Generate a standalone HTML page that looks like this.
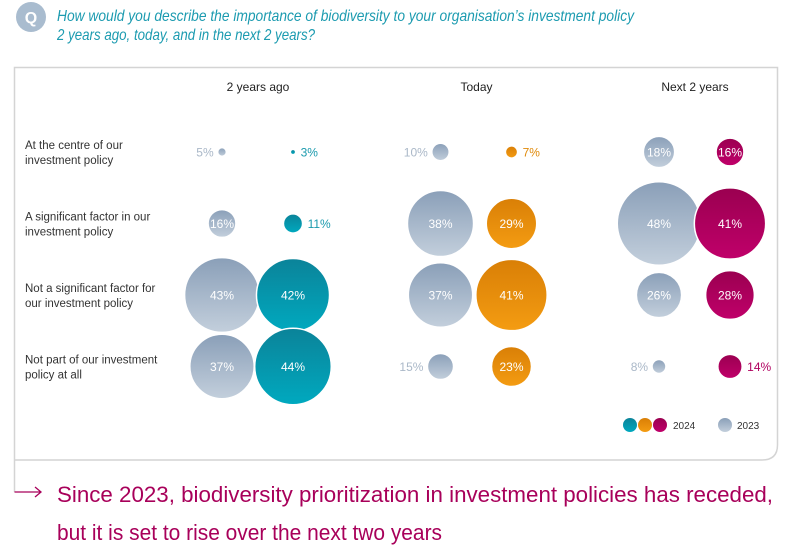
<!DOCTYPE html>
<html><head><meta charset="utf-8"><style>
html,body{margin:0;padding:0;background:#fff;}
svg{display:block;font-family:"Liberation Sans",sans-serif;}
</style></head><body>
<svg width="800" height="556" viewBox="0 0 800 556">
<defs>
<linearGradient id="gGray" x1="0" y1="0" x2="0" y2="1"><stop offset="0" stop-color="#8a9fb8"/><stop offset="1" stop-color="#c3cfdc"/></linearGradient>
<linearGradient id="gTeal" x1="0" y1="0" x2="0" y2="1"><stop offset="0" stop-color="#0b8399"/><stop offset="1" stop-color="#00a9bf"/></linearGradient>
<linearGradient id="gOrange" x1="0" y1="0" x2="0" y2="1"><stop offset="0" stop-color="#d97f06"/><stop offset="1" stop-color="#f49c12"/></linearGradient>
<linearGradient id="gMag" x1="0" y1="0" x2="0" y2="1"><stop offset="0" stop-color="#9a0050"/><stop offset="1" stop-color="#c0006a"/></linearGradient>
</defs>
<circle cx="31" cy="17" r="15" fill="#a9bccf"/>
<text x="31" y="23" text-anchor="middle" fill="#fff" font-size="16" font-weight="bold">Q</text>
<text x="57" y="21" fill="#1c9bb0" font-size="16" font-style="italic" textLength="577" lengthAdjust="spacingAndGlyphs">How would you describe the importance of biodiversity to your organisation’s investment policy</text>
<text x="57" y="40" fill="#1c9bb0" font-size="16" font-style="italic" textLength="258" lengthAdjust="spacingAndGlyphs">2 years ago, today, and in the next 2 years?</text>
<path d="M14.5 492 V67.5 H777.5 V445 Q777.5 460 762 460 H14.5" fill="none" stroke="#d4d4d4" stroke-width="1.5"/>
<path d="M14.5 492 H41 M35 487 L41 492 L35 497" fill="none" stroke="#a8005a" stroke-width="1.3"/>
<text x="57" y="502" fill="#a8005a" font-size="22" textLength="716" lengthAdjust="spacingAndGlyphs">Since 2023, biodiversity prioritization in investment policies has receded,</text>
<text x="57" y="540" fill="#a8005a" font-size="22" textLength="385" lengthAdjust="spacingAndGlyphs">but it is set to rise over the next two years</text>
<g id="chart"></g>
<g>
<circle cx="630" cy="425" r="7" fill="url(#gTeal)"/>
<circle cx="645" cy="425" r="7" fill="url(#gOrange)"/>
<circle cx="660" cy="425" r="7" fill="url(#gMag)"/>
<text x="673" y="429" font-size="10" fill="#333">2024</text>
<circle cx="725" cy="425" r="7" fill="url(#gGray)"/>
<text x="737" y="429" font-size="10" fill="#333">2023</text>
</g>
</svg>
<script>
const categories = [["At the centre of our","investment policy"],["A significant factor in our","investment policy"],["Not a significant factor for","our investment policy"],["Not part of our investment","policy at all"]];
const periods = ["2 years ago","Today","Next 2 years"];
const values2023 = [[5,16,43,37],[10,38,37,15],[18,48,26,8]];
const values2024 = [[3,11,42,44],[7,29,41,23],[16,41,28,14]];
const colorFills = ["url(#gTeal)","url(#gOrange)","url(#gMag)"];
const colorText = ["#1a9aad","#e08a0a","#b0005f"];
const NS="http://www.w3.org/2000/svg";
const g=document.getElementById('chart');
const rowY=i=>152+i*71.5;
const colX=p=>222+p*218.5;
const rad=v=>v*0.87;
function mk(tag,attrs,parent){const e=document.createElementNS(NS,tag);for(const k in attrs)e.setAttribute(k,attrs[k]);(parent||g).appendChild(e);return e;}
categories.forEach((c,i)=>{c.forEach((line,j)=>{const t=mk('text',{x:25,y:rowY(i)-3+j*15,'font-size':11.5,fill:'#333'});t.textContent=line;

});});
periods.forEach((p,k)=>{const t=mk('text',{x:colX(k)+36,y:91,'font-size':12,fill:'#222','text-anchor':'middle'});t.textContent=p;

});
periods.forEach((p,k)=>{categories.forEach((c,i)=>{
 const cy=rowY(i);
 const v3=values2023[k][i], v4=values2024[k][i];
 const x3=colX(k), x4=colX(k)+71;
 const a=mk('circle',{cx:x3,cy:cy,r:Math.max(rad(v3),2),fill:'url(#gGray)',stroke:'#fff','stroke-width':1.5});
 
 
 const b=mk('circle',{cx:x4,cy:cy,r:Math.max(rad(v4),2),fill:colorFills[k],stroke:'#fff','stroke-width':1.5});
 
 
 const t3=v3>=16?mk('text',{x:x3,y:cy+4.5,'font-size':12,fill:'#fff','text-anchor':'middle'}):mk('text',{x:x3-rad(v3)-4,y:cy+4.5,'font-size':12,fill:'#aab8c8','text-anchor':'end'});
 t3.textContent=v3+'%';
 
 
 const t4=v4>=16?mk('text',{x:x4,y:cy+4.5,'font-size':12,fill:'#fff','text-anchor':'middle'}):mk('text',{x:x4+rad(v4)+5,y:cy+4.5,'font-size':12,fill:colorText[k],'text-anchor':'start'});
 t4.textContent=v4+'%';
 
 
});});
</script>
</body></html>
